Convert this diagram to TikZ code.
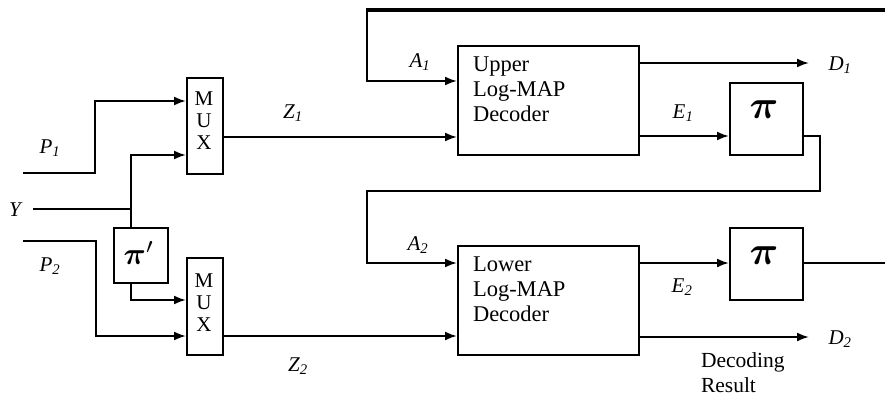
\documentclass[tikz,border=0pt]{standalone}
\usepackage{amsmath}
\usepackage{fontspec}
\setmainfont{Liberation Serif}
\usetikzlibrary{arrows.meta}
\begin{document}
\begin{tikzpicture}[x=1pt,y=-1pt,
  line width=2pt,
  box/.style={draw,line width=2pt,anchor=north west,inner sep=0pt},
  lbl/.style={font=\fontsize{21}{23}\selectfont\itshape,inner sep=0pt},
  txt/.style={font=\fontsize{22.5}{25}\selectfont,align=left,inner sep=0pt,anchor=north west},
  arr/.style={-{Latex[length=12pt,width=9pt]}},
  pis/.style={inner sep=0pt},
  muxt/.style={font=\fontsize{21}{22}\selectfont,align=center,inner sep=0pt}]
\useasboundingbox (0,0) rectangle (885,401);
% boxes
\node[box,minimum width=36pt,minimum height=96pt] (mux1) at (186,77) {};
\node[box,minimum width=36pt,minimum height=97pt] (mux2) at (186,257) {};
\node[box,minimum width=54pt,minimum height=55pt] (pip) at (113,227) {};
\node[box,minimum width=181pt,minimum height=109pt] (ud) at (457,45) {};
\node[box,minimum width=181pt,minimum height=109pt] (ld) at (457,245) {};
\node[box,minimum width=73pt,minimum height=72pt] (pi1) at (729,82) {};
\node[box,minimum width=73pt,minimum height=72pt] (pi2) at (729,227) {};
% box texts
\node[muxt] (m1) at (204,121) {M\\U\\X};
\node[muxt] (m2) at (204,303) {M\\U\\X};
\node[pis] (pipt) at (139,253) {\scalebox{3.1}{$\boldsymbol{\pi}'$}};
\node[pis] (pi1t) at (764,110) {\scalebox{4}{$\boldsymbol{\pi}$}};
\node[pis] (pi2t) at (764,256) {\scalebox{4}{$\boldsymbol{\pi}$}};
\node[txt] (udt) at (472,56) {Upper\\Log-MAP\\Decoder};
\node[txt] (ldt) at (472,256) {Lower\\Log-MAP\\Decoder};
\node[txt,font=\fontsize{21.5}{25}\selectfont] (dr) at (700,352) {Decoding\\Result};
% labels
\node[lbl] (P1) at (50,148) {P\textsubscript{1}};
\node[lbl] (P2) at (50,266) {P\textsubscript{2}};
\node[lbl] (Yl) at (15,210) {Y};
\node[lbl] (Z1) at (293,113) {Z\textsubscript{1}};
\node[lbl] (Z2) at (298,366) {Z\textsubscript{2}};
\node[lbl] (A1) at (420,62) {A\textsubscript{1}};
\node[lbl] (A2) at (418,245) {A\textsubscript{2}};
\node[lbl] (E1) at (683,113) {E\textsubscript{1}};
\node[lbl] (E2) at (682,287) {E\textsubscript{2}};
\node[lbl] (D1) at (840,65) {D\textsubscript{1}};
\node[lbl] (D2) at (840,339) {D\textsubscript{2}};
% free ends
\coordinate (p1s) at (23,173);
\coordinate (p2s) at (23,241);
\coordinate (ys) at (33,209);
\coordinate (yj) at (131,209);
\coordinate (d1e) at (809,63);
\coordinate (d2e) at (809,337);
\coordinate (topr) at (885,10);
\coordinate (outr) at (885,263);
% connectors
\draw[arr] (p1s) -| (95,101) -- (mux1.west |- 0,101);
\draw[arr] (p2s) -| (96,336) -- (mux2.west |- 0,336);
\draw (ys) -- (yj);
\draw[arr] (pip.north -| yj) |- (mux1.west |- 0,155);
\draw[arr] (pip.south -| yj) |- (mux2.west |- 0,300);
\draw[arr] (mux1.east |- 0,137) -- (ud.west |- 0,137);
\draw[arr] (mux2.east |- 0,336) -- (ld.west |- 0,336);
\draw[line width=4pt] (topr) -- (366,10);
\draw[arr] (367,8) |- (ud.west |- 0,81);
\draw[arr] (ud.east |- d1e) -- (d1e);
\draw[arr] (ud.east |- 0,136) -- (pi1.west |- 0,136);
\draw[arr] (pi1.east |- 0,136) -| (820,191) -| (367,263) -- (ld.west |- 0,263);
\draw[arr] (ld.east |- 0,263) -- (pi2.west |- 0,263);
\draw[arr] (ld.east |- d2e) -- (d2e);
\draw (pi2.east |- outr) -- (outr);
\end{tikzpicture}
\end{document}
